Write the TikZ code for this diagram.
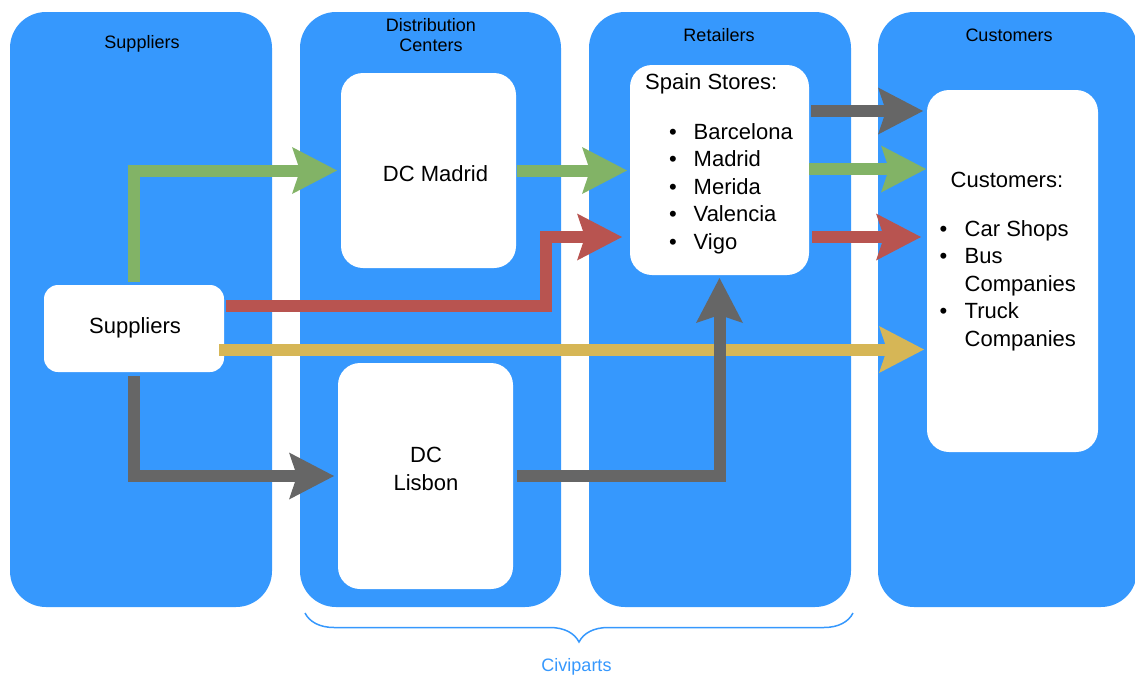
\documentclass[tikz,border=0pt]{standalone}
\usepackage{fontspec}
\setmainfont{Liberation Sans}
\usetikzlibrary{arrows.meta,decorations.pathreplacing}

\definecolor{laneblue}{RGB}{54,152,253}
\definecolor{flowgreen}{HTML}{82B366}
\definecolor{flowred}{HTML}{B85450}
\definecolor{flowyellow}{HTML}{D6B656}
\definecolor{flowgray}{HTML}{666666}

% bullet followed by a fixed indent for the list entries
\newcommand{\listdot}[1][24.5pt]{\makebox[#1][l]{\textbullet}}

\begin{document}
\begin{tikzpicture}[x=1pt, y=-1pt,
  lane/.style={fill=laneblue, draw=none, rounded corners=36pt, inner sep=0pt, outer sep=0pt},
  card/.style={fill=white, draw=none, rounded corners=22pt, inner sep=0pt, outer sep=0pt},
  smallcard/.style={card, rounded corners=14pt},
  hdr/.style={font=\fontsize{18}{20}\selectfont, inner sep=0pt, text=black},
  body/.style={font=\fontsize{22}{27.5}\selectfont, inner sep=0pt, text=black},
  flow/.style={line width=12pt,
    -{Stealth[length=45pt, width=47pt, inset=8pt, line width=0pt]}},
  bracestyle/.style={draw=laneblue, line width=1.5pt,
    decorate, decoration={brace, mirror, amplitude=29pt, aspect=0.5}}
]
\useasboundingbox (0,0) rectangle (1135,675);

% swimlanes
\node[lane, minimum width=262pt, minimum height=595pt] (l1) at (141,309.5) {};
\node[lane, minimum width=261pt, minimum height=595pt] (l2) at (430.5,309.5) {};
\node[lane, minimum width=262pt, minimum height=595pt] (l3) at (720,309.5) {};
\node[lane, minimum width=259pt, minimum height=595pt] (l4) at (1007.5,309.5) {};

% lane titles
\node[hdr, anchor=base] (h1) at (142,48.7) {Suppliers};
\node[hdr, anchor=base] (h2) at (431,31.7) {\begin{tabular}[t]{@{}c@{}}Distribution\\Centers\end{tabular}};
\node[hdr, anchor=base] (h3) at (719,41.7) {Retailers};
\node[hdr, anchor=base] (h4) at (1009,41.7) {Customers};

% white cards
\node[smallcard, minimum width=180pt, minimum height=87pt] (sup) at (134,328.5) {};
\node[card, minimum width=175pt, minimum height=195pt] (dcm) at (428.5,170.5) {};
\node[card, minimum width=175pt, minimum height=226pt] (dcl) at (425.5,476) {};
\node[card, minimum width=179pt, minimum height=210pt] (ss) at (719.5,170) {};
\node[card, minimum width=171pt, minimum height=362pt] (cb) at (1012.5,271) {};

% card texts
\node[body, anchor=base] (tsup) at (135,333.3) {Suppliers};
\node[body, anchor=base] (tdcm) at (435.5,181) {DC Madrid};
\node[body, anchor=base] (tdcl) at (426,462.7) {\begin{tabular}[t]{@{}c@{}}DC\\Lisbon\end{tabular}};
\node[body, anchor=base west] (tss) at (645,89.5) {Spain Stores:};
\node[body, anchor=base west] (tssl) at (669,139) {\begin{tabular}[t]{@{}l@{}}
  \listdot Barcelona\\
  \listdot Madrid\\
  \listdot Merida\\
  \listdot Valencia\\
  \listdot Vigo
\end{tabular}};
\node[body, anchor=base west] (tcb) at (950.5,187) {Customers:};
\node[body, anchor=base west] (tcbl) at (939.5,236) {\begin{tabular}[t]{@{}l@{}}
  \listdot[25pt]Car Shops\\
  \listdot[25pt]Bus\\
  \hspace*{25pt}Companies\\
  \listdot[25pt]Truck\\
  \hspace*{25pt}Companies
\end{tabular}};

% flows
\coordinate (rbend) at (545.5,237);

\draw[flow, flowgreen] ([yshift=3pt]sup.north) |- ([xshift=-4pt]dcm.west);
\draw[flow, flowgreen] ([xshift=1pt]dcm.east) -- ([xshift=-3pt]ss.west |- dcm.east);
\draw[flow, flowgreen] (ss.east |- 0,169) -- ([xshift=-1pt]cb.west |- 0,169);

\draw[flow, flowred] ([shift={(2pt,22.5pt)}]sup.east) -| (rbend) -- ([xshift=-8pt]ss.west |- rbend);
\draw[flow, flowred] ([xshift=3pt]ss.east |- rbend) -- ([xshift=-6pt]cb.west |- rbend);

\draw[flow, flowyellow] ([shift={(-5pt,-21pt)}]sup.east) -- ([xshift=-3pt]cb.west |- 0,349.5);

\draw[flow, flowgray] ([yshift=-4pt]sup.south) |- ([xshift=-4pt]dcl.west);
\draw[flow, flowgray] ([xshift=4pt]dcl.east) -| ([yshift=-3pt]ss.south);
\draw[flow, flowgray] ([xshift=2pt]ss.east |- 0,111) -- ([xshift=-4pt]cb.west |- 0,111);

% grouping brace
\draw[bracestyle] ([shift={(5pt,-6pt)}]l2.south west) -- ([shift={(2pt,-6pt)}]l3.south east);
\node[hdr, text=laneblue, anchor=base] (civ) at (576.5,671) {Civiparts};
\end{tikzpicture}
\end{document}
